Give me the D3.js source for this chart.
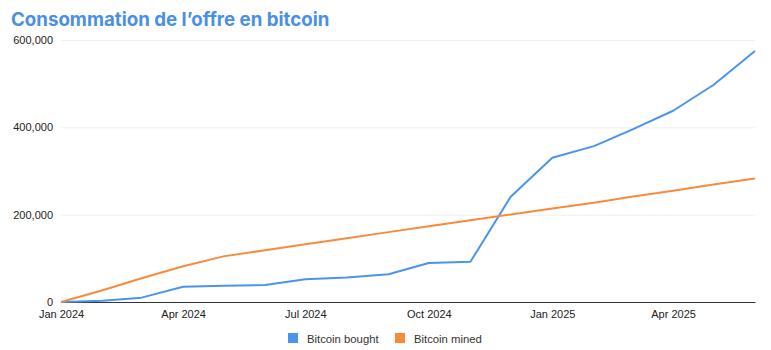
<!DOCTYPE html>
<html><head><meta charset="utf-8">
<script src="https://cdn.jsdelivr.net/npm/d3@7"></script>
<style>body{margin:0;background:#fff}svg{display:block}</style>
</head><body><svg id="c" width="771" height="350"></svg>
<script>
const months = ["2024-01","2024-02","2024-03","2024-04","2024-05","2024-06","2024-07","2024-08","2024-09","2024-10","2024-11","2024-12","2025-01","2025-02","2025-03","2025-04","2025-05","2025-06"];
const bought = [0,3000,10000,35000,37300,39000,52000,56000,63400,89300,92000,241000,330500,357000,394000,438000,497000,575000];
const mined = [0,27000,54500,82000,104500,118500,132000,146000,160000,173500,187000,200500,214000,227500,241000,255000,269000,283000];
const yTicks = [0,200000,400000,600000];
const xTicks = ["2024-01","2024-04","2024-07","2024-10","2025-01","2025-04"];
const seriesNames = ["Bitcoin bought","Bitcoin mined"];
const colors = ["#4a94ec","#f78b3d"];

const parse = d3.timeParse("%Y-%m");
const svg = d3.select("#c");
const L = 61, R = 755, T = 40, B = 302;
const x = d3.scaleTime().domain([parse(months[0]), parse(months[months.length-1])]).range([L, R]);
const y = d3.scaleLinear().domain([0, 600000]).range([B, T]);

svg.append("text").attr("x", 11).attr("y", 26).text("Consommation de l’offre en bitcoin")
  .attr("font-family", "Inter, Roboto, sans-serif").attr("font-weight", 700).attr("font-size", 18.7).attr("fill", "#4a90e2");

const yAxis = svg.append("g").attr("transform", `translate(${L},0)`)
  .call(d3.axisLeft(y).tickValues(yTicks).tickFormat(d3.format(",")).tickSize(-(R - L)).tickPadding(8));
yAxis.select(".domain").remove();
yAxis.selectAll("line").attr("stroke", "#efefef");
yAxis.selectAll("text").attr("font-family", "Liberation Sans, Arial, sans-serif").attr("font-size", 11).attr("fill", "#222");

const xAxis = svg.append("g").attr("transform", `translate(0,${B})`)
  .call(d3.axisBottom(x).tickValues(xTicks.map(parse)).tickFormat(d3.timeFormat("%b %Y")).tickSize(0).tickPadding(8));
xAxis.select(".domain").attr("stroke", "#333");
xAxis.selectAll("text").attr("font-family", "Liberation Sans, Arial, sans-serif").attr("font-size", 11).attr("fill", "#222").attr("dy", "0.71em");

const line = d3.line().x((d, i) => x(parse(months[i]))).y(d => y(d));
[bought, mined].forEach((s, k) => {
  svg.append("path").datum(s).attr("d", line).attr("fill", "none").attr("stroke", colors[k]).attr("stroke-width", 2).attr("stroke-linejoin", "round");
});

const legX = [288, 395];
seriesNames.forEach((n, k) => {
  const g = svg.append("g").attr("transform", `translate(${legX[k]},333)`);
  g.append("rect").attr("width", 10).attr("height", 10).attr("fill", colors[k]);
  g.append("text").attr("x", 19).attr("y", 9.5).text(n).attr("font-family", "Liberation Sans, Arial, sans-serif").attr("font-size", 11.3).attr("fill", "#333");
});
</script></body></html>
